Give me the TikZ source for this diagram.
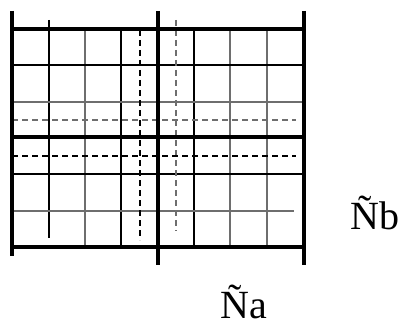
\documentclass[tikz,border=0pt]{standalone}
\usepackage{fontspec}
\setmainfont{Liberation Serif}
\definecolor{gdInk} {HTML}{000000}
\definecolor{gdGrey}{HTML}{6E6E6E}

\begin{document}
\begin{tikzpicture}[x=1pt,y=-1pt,
    heavy/.style={line width=3.6pt,gdInk},
    fine/.style={line width=1.1pt,gdInk},
    faint/.style={line width=1.1pt,gdGrey},
    dashline/.style={line width=1.1pt,dash pattern=on 6pt off 4pt}]
  \useasboundingbox (0,0) rectangle (403,326);
  % thin grid
  \draw[fine] (49,20) -- (49,238);
  \foreach \gx/\gs in {85/faint,121/fine,194/fine,230/faint,267/faint}
    \draw[\gs] (\gx,29) -- (\gx,247);
  \foreach \gy/\gs in {65/fine,102/faint,174/fine}
    \draw[\gs] (12,\gy) -- (304,\gy);
  \draw[faint] (12,211) -- (294,211);
  % dashed cross
  \draw[dashline,gdInk]  (140,30) -- (140,240);
  \draw[dashline,gdGrey] (176,20) -- (176,231);
  \draw[dashline,gdGrey] (12,120) -- (296,120);
  \draw[dashline,gdInk]  (12,156) -- (296,156);
  % heavy frame
  \draw[heavy] (12,11) -- (12,256);
  \draw[heavy] (158,11) -- (158,265);
  \draw[heavy] (304,11) -- (304,265);
  \foreach \gy in {29,137,247}
    \draw[heavy] (10.2,\gy) -- (305.8,\gy);
  % labels
  \node[anchor=base west,inner sep=0] (nb) at (350,229)
    {\fontsize{40}{44}\selectfont Ñb};
  \node[anchor=base west,inner sep=0] (na) at (220,318)
    {\fontsize{40}{44}\selectfont Ña};
\end{tikzpicture}
\end{document}
